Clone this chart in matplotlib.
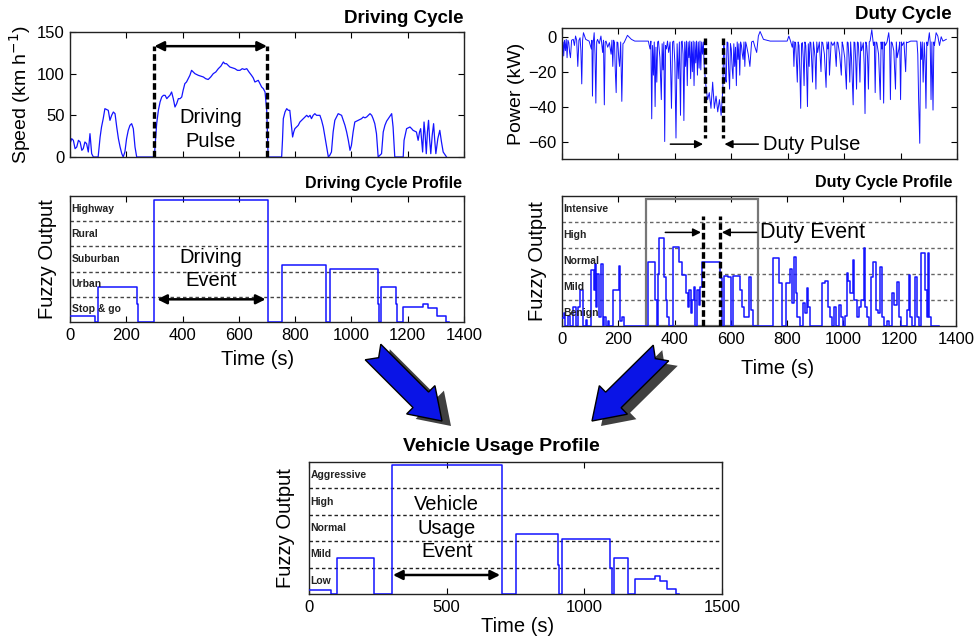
import numpy as np
import matplotlib.pyplot as plt
from matplotlib.patches import Polygon, Rectangle

plt.rcParams['font.family'] = ['Liberation Sans', 'DejaVu Sans']

W, H = 976, 640
BLUE = '#1414ff'

# speed trace (time s, km/h)
speed_pts = [(0, 16), (6, 22), (12, 20), (18, 10), (24, 12), (30, 20), (36, 18), (42, 8), (47, 10), (53, 18),
             (59, 16), (65, 6), (71, 28), (77, 4), (83, 0), (100, 0), (107, 24), (112, 36), (118, 46), (124, 58),
             (130, 57), (136, 56), (142, 44), (148, 50), (154, 54), (160, 52), (166, 36), (172, 22), (178, 12),
             (184, 4), (189, 0), (195, 6), (201, 22), (207, 32), (213, 38), (219, 40), (225, 34), (231, 12),
             (237, 0), (300, 0), (302, 12), (308, 40), (314, 56), (320, 66), (326, 72), (332, 74), (338, 74),
             (344, 70), (349, 72), (355, 74), (361, 78), (367, 70), (373, 60), (379, 64), (385, 70), (391, 70),
             (397, 72), (402, 80), (408, 88), (414, 90), (420, 94), (426, 98), (432, 104), (438, 102), (444, 100),
             (450, 99), (456, 98), (465, 97), (474, 96), (482, 94), (491, 93), (500, 96), (509, 100), (518, 102),
             (527, 106), (536, 109), (545, 114), (550, 112), (556, 112), (562, 110), (568, 108), (577, 107),
             (586, 106), (595, 104), (604, 104), (612, 106), (620, 105), (628, 106), (636, 102), (645, 98),
             (651, 95), (657, 90), (663, 91), (669, 92), (675, 88), (681, 84), (687, 82), (693, 78), (699, 56),
             (702, 20), (704, 0), (752, 0), (755, 20), (758, 46), (764, 54), (770, 58), (776, 56), (781, 56),
             (786, 40), (791, 24), (795, 30), (799, 34), (805, 36), (811, 38), (817, 42), (823, 44), (829, 46),
             (835, 48), (841, 50), (847, 48), (853, 50), (858, 46), (864, 50), (870, 52), (876, 50), (882, 50),
             (888, 50), (894, 44), (900, 36), (906, 24), (912, 12), (918, 0), (923, 2), (929, 6), (935, 30),
             (941, 44), (947, 48), (953, 52), (959, 51), (965, 50), (971, 44), (977, 38), (983, 30), (989, 20),
             (995, 8), (1000, 14), (1006, 30), (1012, 42), (1018, 43), (1024, 44), (1030, 45), (1036, 46),
             (1042, 48), (1048, 47), (1054, 48), (1060, 50), (1066, 52), (1072, 50), (1077, 46), (1083, 40),
             (1089, 28), (1095, 0), (1107, 4), (1113, 30), (1119, 38), (1125, 43), (1131, 46), (1137, 49),
             (1143, 52), (1148, 36), (1154, 0), (1184, 0), (1187, 20), (1192, 28), (1196, 34), (1202, 35),
             (1208, 36), (1214, 34), (1219, 32), (1225, 31), (1231, 30), (1237, 20), (1242, 30), (1246, 34),
             (1250, 18), (1253, 6), (1258, 42), (1262, 26), (1266, 4), (1270, 30), (1274, 44), (1278, 20),
             (1282, 4), (1287, 26), (1292, 40), (1296, 20), (1300, 4), (1307, 22), (1314, 32), (1320, 18),
             (1326, 6), (1332, 3), (1338, 0)]

# power trace (time s, kW)
power_pts = [(0, -5), (4, -3), (6, -11), (9, -2), (12, -8), (15, -1.5), (18, -12), (21, -2), (24, -3.4),
             (27, -9), (30, -12), (34, -2), (40, -1.5), (44, -5), (48, 0.4), (52, -2), (56, -17), (60, -2),
             (64, -0.6), (67, -8), (70, -27), (73, -2), (76, 2.3), (84, -1.5), (96, -2.5), (104, -7), (106, -2),
             (108, -34), (111, -3), (114, 2.3), (117, -10), (120, -38), (123, -3), (126, -1.5), (132, -4),
             (138, 0.4), (144, -9), (147, -2), (150, -39), (153, -3), (156, -2.5), (162, -6), (168, -3.4),
             (174, -10), (177, -2), (180, -17), (183, -2), (186, -3.4), (189, -20), (192, -32), (195, -3),
             (198, -3.4), (201, -12), (204, -17), (208, -3), (212, -37), (216, -4), (220, -3.4), (232, 0.8),
             (246, -1.5), (258, -2.5), (306, -2.5), (312, -7), (315, -2.5), (318, -47), (321, -5), (324, -22),
             (327, -3), (330, -40), (333, -6), (336, -26), (339, -3), (342, -2.5), (347, -12), (352, -36),
             (355, -4), (358, -19), (361, -3), (364, -60), (367, -5), (370, -7), (374, -2.5), (378, -9),
             (383, -3), (388, -41), (392, -3), (396, -2.5), (400, -15), (404, -58), (408, -4), (412, -24),
             (416, -3), (420, -45), (423, -3), (426, -2.5), (429, -10), (432, -48), (435, -3), (438, -17),
             (441, -2.5), (444, -28), (447, -3), (450, -12), (453, -2.5), (456, -24), (459, -3), (462, -20),
             (465, -2.5), (468, -28), (471, -3), (474, -15), (477, -2.5), (480, -22), (483, -3), (486, -18),
             (489, -2.5), (492, -19), (495, -3), (498, -10), (501, -3), (504, -17), (510, -28), (516, -36),
             (522, -32), (528, -41), (534, -26), (540, -41), (546, -34), (552, -43), (558, -36), (564, -45),
             (570, -30), (573, -3), (576, -7), (579, -24), (582, -26), (585, -3), (588, -3.4), (591, -20),
             (594, -30), (597, -4), (600, -7), (603, -18), (606, -24), (609, -4), (612, -17), (615, -6),
             (618, -28), (621, -3), (624, -13), (627, -4), (630, -22), (633, -3), (636, -5), (639, -10),
             (642, -13), (645, -3), (648, -17), (651, -3), (654, -5), (660, -10), (666, -17), (672, -3),
             (678, -2.5), (684, -6), (690, -9), (696, 0.4), (702, 3), (714, -1.5), (738, -2.5), (798, -2.5),
             (804, 0.4), (810, -2.5), (816, -6), (819, -2.5), (822, -17), (825, -3), (828, -3.4), (831, -14),
             (834, -26), (837, -3), (840, -5), (843, -20), (846, -41), (849, -4), (852, -3.4), (855, -12),
             (858, -28), (861, -3), (864, -5), (867, -18), (870, -40), (873, -4), (876, -17), (879, -3),
             (882, -3.4), (885, -14), (888, -26), (891, -3), (894, -7), (897, -12), (900, -30), (903, -3),
             (906, -9), (912, -3), (918, -20), (921, -3), (924, -3.4), (930, -10), (936, -29), (939, -3),
             (942, -7), (945, -3), (948, -22), (954, -3), (960, -5), (966, -3), (972, -17), (975, -3),
             (978, -3.4), (984, -10), (990, -22), (993, -3), (996, -5), (1002, -12), (1008, -30), (1011, -3),
             (1014, -3.4), (1017, -12), (1020, -26), (1023, -3), (1026, -12), (1032, -39), (1035, -3),
             (1038, -3.4), (1041, -14), (1044, -30), (1047, -3), (1050, -3.4), (1053, -12), (1056, -26),
             (1059, -3), (1062, -8), (1068, -3.4), (1071, -16), (1074, -44), (1077, -3), (1080, -5), (1083, -12),
             (1086, -30), (1089, -3), (1092, -2.5), (1098, 4), (1104, -5), (1107, -3), (1110, -32), (1113, -3),
             (1116, -3.4), (1122, -10), (1128, -36), (1131, -3), (1134, -7), (1137, -3), (1140, -38),
             (1143, -3), (1146, -5), (1152, -3), (1158, 2.3), (1161, -3), (1164, -36), (1167, -3),
             (1170, -3.4), (1176, -8), (1182, -30), (1185, -3), (1188, -12), (1194, -7), (1197, -3),
             (1200, -36), (1203, -3), (1206, -5), (1212, -3), (1218, -20), (1221, -3), (1224, -3.4),
             (1236, -2.5), (1258, -2.5), (1261, -10), (1264, -36), (1268, -61), (1271, -3), (1274, -13),
             (1277, -3), (1280, -26), (1284, -3.4), (1287, -14), (1290, -41), (1293, -3), (1296, -5),
             (1302, 2.3), (1305, -3), (1308, -36), (1311, -3), (1315, -42), (1318, -3), (1320, -5),
             (1326, 2.3), (1332, 0.4), (1338, -5), (1344, 0), (1350, -2.5), (1362, -1.5)]

# fuzzy class steps (start time s, level)
drive_steps = [(0, 0.25), (88, 0.0), (100, 1.4), (237, 0.7), (242, 0.0), (300, 4.85), (705, 0.0), (752, 2.27),
               (909, 0.0), (923, 2.1), (1093, 0.7), (1098, 0.0), (1105, 1.4), (1158, 0.7), (1163, 0.0),
               (1182, 0.6), (1255, 0.72), (1272, 0.55), (1303, 0.25), (1336, 0.0), (1345, 0.0)]

duty_steps = [(0, 0.3), (6, 0.5), (12, 0.0), (21, 0.4), (30, 0.0), (40, 0.75), (48, 0.0), (56, 0.75), (64, 1.4),
              (73, 0.0), (85, 0.25), (90, 0.0), (104, 2.15), (112, 1.4), (116, 2.4), (121, 0.75), (126, 2.0),
              (132, 0.35), (138, 2.4), (144, 0.0), (150, 0.35), (156, 0.0), (162, 0.2), (166, 0.0), (181, 1.4),
              (201, 2.3), (207, 0.2), (214, 0.35), (220, 0.0), (305, 2.47), (331, 1.0), (336, 0.0), (340, 2.0),
              (346, 3.37), (362, 1.9), (368, 1.0), (374, 0.35), (380, 0.0), (394, 3.05), (414, 2.47),
              (426, 1.96), (440, 1.26), (446, 0.74), (452, 1.38), (458, 0.5), (463, 1.0), (468, 1.5), (474, 0.0),
              (480, 1.4), (486, 0.8), (492, 1.5), (498, 2.47), (563, 1.83), (570, 0.0), (576, 1.92), (590, 1.9),
              (601, 0.0), (606, 1.92), (632, 1.38), (638, 0.74), (645, 0.36), (663, 1.87), (672, 0.6),
              (680, 0.0), (751, 2.6), (771, 1.64), (780, 0.0), (797, 1.64), (810, 2.18), (816, 0.87), (825, 2.67),
              (830, 1.26), (836, 0.36), (845, 0.0), (855, 0.87), (864, 0.5), (869, 1.45), (875, 0.74), (881, 0.0),
              (923, 1.64), (935, 1.74), (944, 0.74), (951, 0.36), (958, 0.0), (966, 0.74), (972, 0.0),
              (984, 0.8), (992, 0.36), (998, 0.0), (1004, 0.4), (1011, 2.03), (1017, 1.74), (1023, 1.26),
              (1033, 2.54), (1038, 1.0), (1048, 0.36), (1054, 0.74), (1062, 1.0), (1072, 3.0), (1078, 0.74),
              (1085, 0.36), (1092, 0.0), (1097, 1.9), (1104, 2.47), (1116, 0.62), (1122, 0.49), (1130, 2.26),
              (1137, 0.36), (1144, 0.0), (1156, 0.2), (1162, 0.0), (1173, 1.26), (1180, 0.8), (1191, 1.7),
              (1197, 0.36), (1205, 0.0), (1226, 0.62), (1232, 1.96), (1238, 0.36), (1244, 0.0), (1254, 1.9),
              (1262, 0.36), (1270, 0.0), (1276, 2.82), (1290, 1.38), (1296, 0.36), (1300, 2.82), (1305, 0.36),
              (1312, 0.0), (1340, 0.0)]

usage_steps = [(0, 0.15), (81, 0.0), (102, 1.36), (235, 0.0), (302, 4.9), (702, 0.0), (750, 2.27), (903, 1.1),
               (908, 0.0), (920, 2.08), (1094, 1.0), (1100, 0.0), (1106, 1.36), (1157, 0.0), (1185, 0.57),
               (1257, 0.68), (1276, 0.5), (1302, 0.18), (1334, 0.0), (1345, 0.0)]

drive_classes = ['Highway', 'Rural', 'Suburban', 'Urban', 'Stop & go']
duty_classes = ['Intensive', 'High', 'Normal', 'Mild', 'Benign']
usage_classes = ['Aggressive', 'High', 'Normal', 'Mild', 'Low']


def box(l, t, r, b):
    return [l / W, 1 - b / H, (r - l) / W, (b - t) / H]


def frame(ax, xmax, xt, labels=True):
    ax.set_xlim(0, xmax)
    ax.set_xticks(xt)
    if not labels:
        ax.set_xticklabels([])
    ax.tick_params(direction='in', top=True, right=True, length=4, labelsize=12, pad=4)
    for s in ax.spines.values():
        s.set_linewidth(1.0)
        s.set_color('#222222')


def profile(ax, classes, steps, gridc='#444444'):
    ax.set_ylim(0, 5)
    ax.set_yticks([])
    for y in range(1, 5):
        ax.axhline(y, color=gridc, ls=(0, (2.5, 2)), lw=1.0, zorder=1)
    for i, name in enumerate(classes):
        ax.text(0.004, 4.5 - i, name, transform=ax.get_yaxis_transform(), fontsize=7.5,
                fontweight='bold', va='center', ha='left', color='#222222', zorder=5)
    t, v = zip(*steps)
    ax.step(t, v, where='post', color=BLUE, lw=1.1, zorder=3)


def label(ax, x, y, s, rot=0, size=14.5):
    ax.text(x, y, s, transform=ax.transAxes, ha='center', va='center', rotation=rot, fontsize=size)


def double_arrow(ax, x0, x1, y):
    ax.annotate('', xy=(x0, y), xytext=(x1, y),
                arrowprops=dict(arrowstyle='<|-|>', color='k', lw=1.8, mutation_scale=14, shrinkA=0, shrinkB=0))


def one_arrow(ax, x0, x1, y):
    ax.annotate('', xy=(x1, y), xytext=(x0, y),
                arrowprops=dict(arrowstyle='-|>', color='k', lw=1.1, mutation_scale=12, shrinkA=0, shrinkB=0))


def dashed(ax, x, y0, y1):
    ax.plot([x, x], [y0, y1], color='k', lw=2.4, ls=(0, (2.0, 0.9)), zorder=4)


fig = plt.figure(figsize=(W / 100, H / 100), dpi=100)
ticks14 = np.arange(0, 1401, 200)

# Driving cycle
ax1 = fig.add_axes(box(70, 32, 464, 157))
t, v = zip(*speed_pts)
ax1.plot(t, v, color=BLUE, lw=0.9)
frame(ax1, 1400, ticks14, labels=False)
ax1.set_ylim(0, 150)
ax1.set_yticks([0, 50, 100, 150])
dashed(ax1, 300, 0, 133)
dashed(ax1, 700, 0, 133)
double_arrow(ax1, 300, 700, 133)
ax1.text(500, 33, 'Driving\nPulse', ha='center', va='center', fontsize=14.5, linespacing=1.3)
ax1.text(1.0, 1.11, 'Driving Cycle', transform=ax1.transAxes, ha='right', va='center',
         fontsize=13.5, fontweight='bold')
label(ax1, -0.128, 0.5, 'Speed (km h$^{-1}$)', rot=90, size=14)

# Driving cycle profile
ax2 = fig.add_axes(box(70, 196, 464, 322))
frame(ax2, 1400, ticks14)
profile(ax2, drive_classes, drive_steps)
double_arrow(ax2, 310, 695, 0.9)
ax2.text(500, 2.1, 'Driving\nEvent', ha='center', va='center', fontsize=14.5, linespacing=1.25)
ax2.text(0.995, 1.1, 'Driving Cycle Profile', transform=ax2.transAxes, ha='right', va='center',
         fontsize=11.5, fontweight='bold')
label(ax2, -0.058, 0.5, 'Fuzzy Output', rot=90)
label(ax2, 0.475, -0.30, 'Time (s)')

# Duty cycle
ax3 = fig.add_axes(box(562, 28, 957, 159))
t, v = zip(*power_pts)
ax3.plot(t, v, color=BLUE, lw=0.7)
frame(ax3, 1400, ticks14, labels=False)
ax3.set_ylim(-70, 5)
ax3.set_yticks([-60, -40, -20, 0])
dashed(ax3, 506, -1, -58)
dashed(ax3, 570, -1, -58)
one_arrow(ax3, 384, 500, -61.5)
one_arrow(ax3, 696, 576, -61.5)
ax3.text(712, -61.5, 'Duty Pulse', ha='left', va='center', fontsize=14.5)
ax3.text(0.987, 1.1, 'Duty Cycle', transform=ax3.transAxes, ha='right', va='center',
         fontsize=13.5, fontweight='bold')
label(ax3, -0.114, 0.5, 'Power (kW)', rot=90, size=14)

# Duty cycle profile
ax4 = fig.add_axes(box(562, 196, 956, 326))
frame(ax4, 1400, ticks14)
profile(ax4, duty_classes, duty_steps, gridc='#666666')
ax4.add_patch(Rectangle((300, 0), 395, 4.87, fill=False, ec='#777777', lw=1.6, zorder=2))
dashed(ax4, 500, 0, 4.25)
dashed(ax4, 563, 0, 4.25)
one_arrow(ax4, 367, 494, 3.6)
one_arrow(ax4, 692, 568, 3.6)
ax4.text(702, 3.6, 'Duty Event', ha='left', va='center', fontsize=15.5)
ax4.text(0.992, 1.1, 'Duty Cycle Profile', transform=ax4.transAxes, ha='right', va='center',
         fontsize=11.5, fontweight='bold')
label(ax4, -0.061, 0.5, 'Fuzzy Output', rot=90)
label(ax4, 0.546, -0.33, 'Time (s)')

# Vehicle usage profile
ax5 = fig.add_axes(box(309, 462, 722, 594))
frame(ax5, 1500, [0, 500, 1000, 1500])
profile(ax5, usage_classes, usage_steps, gridc='#222222')
double_arrow(ax5, 305, 694, 0.72)
ax5.text(500, 2.5, 'Vehicle\nUsage\nEvent', ha='center', va='center', fontsize=14.5, linespacing=1.27)
ax5.text(0.467, 1.114, 'Vehicle Usage Profile', transform=ax5.transAxes, ha='center', va='center',
         fontsize=14, fontweight='bold')
label(ax5, -0.058, 0.5, 'Fuzzy Output', rot=90)
label(ax5, 0.505, -0.25, 'Time (s)')


# block arrows joining the profiles (pixel coords, y down)
def block_arrow(tail, tip, sw=22, hw=40, hl=30, notch=8, shadow=(9, 5)):
    tail = np.array(tail, float)
    tip = np.array(tip, float)
    u = (tip - tail) / np.hypot(*(tip - tail))
    n = np.array([-u[1], u[0]])
    neck = tip - u * hl
    pts = [tail + n * sw / 2, neck + n * sw / 2, neck + n * hw / 2, tip,
           neck - n * hw / 2, neck - n * sw / 2, tail - n * sw / 2, tail + u * notch]
    pts = np.array(pts)
    for off, fc, ec, z in [(shadow, '#404040', 'none', 10), ((0, 0), '#0a14e6', 'k', 11)]:
        p = pts + np.array(off)
        xy = np.column_stack([p[:, 0] / W, 1 - p[:, 1] / H])
        fig.add_artist(Polygon(xy, closed=True, fc=fc, ec=ec, lw=1.0, transform=fig.transFigure, zorder=z))


block_arrow((373, 352), (442, 421))
block_arrow((661, 353), (592, 421))

fig.savefig('out.png', dpi=100)
